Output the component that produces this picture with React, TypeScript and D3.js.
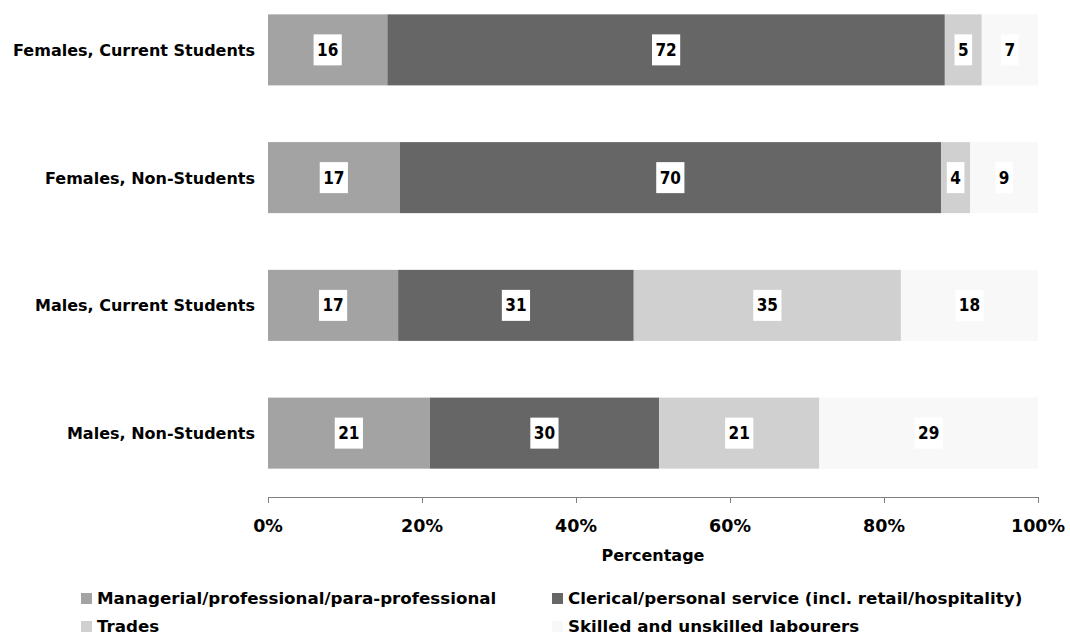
import React from "react";
import * as d3 from "d3";

const categories = [
  "Females, Current Students",
  "Females, Non-Students",
  "Males, Current Students",
  "Males, Non-Students",
];

const seriesNames = [
  "Managerial/professional/para-professional",
  "Clerical/personal service (incl. retail/hospitality)",
  "Trades",
  "Skilled and unskilled labourers",
];

const managerial = [15.5, 17.1, 16.9, 21.0];
const clerical = [72.4, 70.3, 30.6, 29.8];
const trades = [4.8, 3.8, 34.7, 20.8];
const labourers = [7.3, 8.8, 17.8, 28.4];

// Printed labels
const managerialLabels = [16, 17, 17, 21];
const clericalLabels = [72, 70, 31, 30];
const tradesLabels = [5, 4, 35, 21];
const labourersLabels = [7, 9, 18, 29];

const xTicks = [0, 20, 40, 60, 80, 100];

const colors = ["#a3a3a3", "#666666", "#d0d0d0", "#f8f8f8"];

const FONT_C = "'DejaVu Sans Condensed', 'DejaVu Sans', sans-serif";
const FONT = "'DejaVu Sans', sans-serif";

export default function App() {
  const width = 1070;
  const height = 635;
  const x = d3.scaleLinear().domain([0, 100]).range([268, 1038]);
  const y = d3
    .scaleBand<string>()
    .domain(categories)
    .range([-14, 497])
    .paddingInner(0.444)
    .paddingOuter(0.222);

  const table = categories.map((c, i) => ({
    category: c,
    s0: managerial[i],
    s1: clerical[i],
    s2: trades[i],
    s3: labourers[i],
  }));
  const keys = ["s0", "s1", "s2", "s3"];
  const labels = [managerialLabels, clericalLabels, tradesLabels, labourersLabels];
  const stack = d3.stack<any>().keys(keys)(table);

  const axisY = 497;

  const legendItems = [
    { x: 81, y: 593 },
    { x: 552, y: 593 },
    { x: 81, y: 621 },
    { x: 552, y: 621 },
  ];

  return (
    <svg
      width={width}
      height={height}
      style={{ position: "absolute", left: 0, top: 0, background: "#fff" }}
      fontFamily={FONT}
      fontWeight="bold"
    >
      {stack.map((layer, si) => (
        <g key={si}>
          {layer.map((d, ci) => (
            <rect
              key={ci}
              x={x(d[0])}
              y={y(categories[ci])}
              width={x(d[1]) - x(d[0])}
              height={y.bandwidth()}
              fill={colors[si]}
            />
          ))}
        </g>
      ))}
      {stack.map((layer, si) => (
        <g key={"l" + si}>
          {layer.map((d, ci) => {
            const label = String(labels[si][ci]);
            const cx = (x(d[0]) + x(d[1])) / 2;
            const cy = (y(categories[ci]) as number) + y.bandwidth() / 2;
            const tw = label.length * 10.6;
            const bw = tw + 7;
            return (
              <g key={ci}>
                <rect x={cx - bw / 2} y={cy - 15.5} width={bw} height={31} fill="#fff" />
                <text x={cx} y={cy + 6} textAnchor="middle" fontSize={17} fontFamily={FONT_C} fill="#000">
                  {label}
                </text>
              </g>
            );
          })}
        </g>
      ))}
      {categories.map((c) => (
        <text
          key={c}
          x={255}
          y={(y(c) as number) + y.bandwidth() / 2 + 6}
          textAnchor="end"
          fontSize={16}
          fill="#000"
        >
          {c}
        </text>
      ))}
      <line x1={x(0)} x2={x(100)} y1={axisY + 0.5} y2={axisY + 0.5} stroke="#808080" strokeWidth={1} />
      {xTicks.map((t) => (
        <g key={t}>
          <line x1={Math.round(x(t)) + 0.5} x2={Math.round(x(t)) + 0.5} y1={axisY} y2={axisY + 6} stroke="#808080" />
          <text x={x(t)} y={531.5} textAnchor="middle" fontSize={17.5} fill="#000">
            {t + "%"}
          </text>
        </g>
      ))}
      <text x={(x(0) + x(100)) / 2} y={561} textAnchor="middle" fontSize={16} fill="#000">
        Percentage
      </text>
      {seriesNames.map((n, i) => (
        <g key={n}>
          <rect x={legendItems[i].x} y={legendItems[i].y} width={11} height={11} fill={colors[i]} />
          <text x={legendItems[i].x + 16} y={legendItems[i].y + 11} fontSize={16.7} fill="#000">
            {n}
          </text>
        </g>
      ))}
    </svg>
  );
}
